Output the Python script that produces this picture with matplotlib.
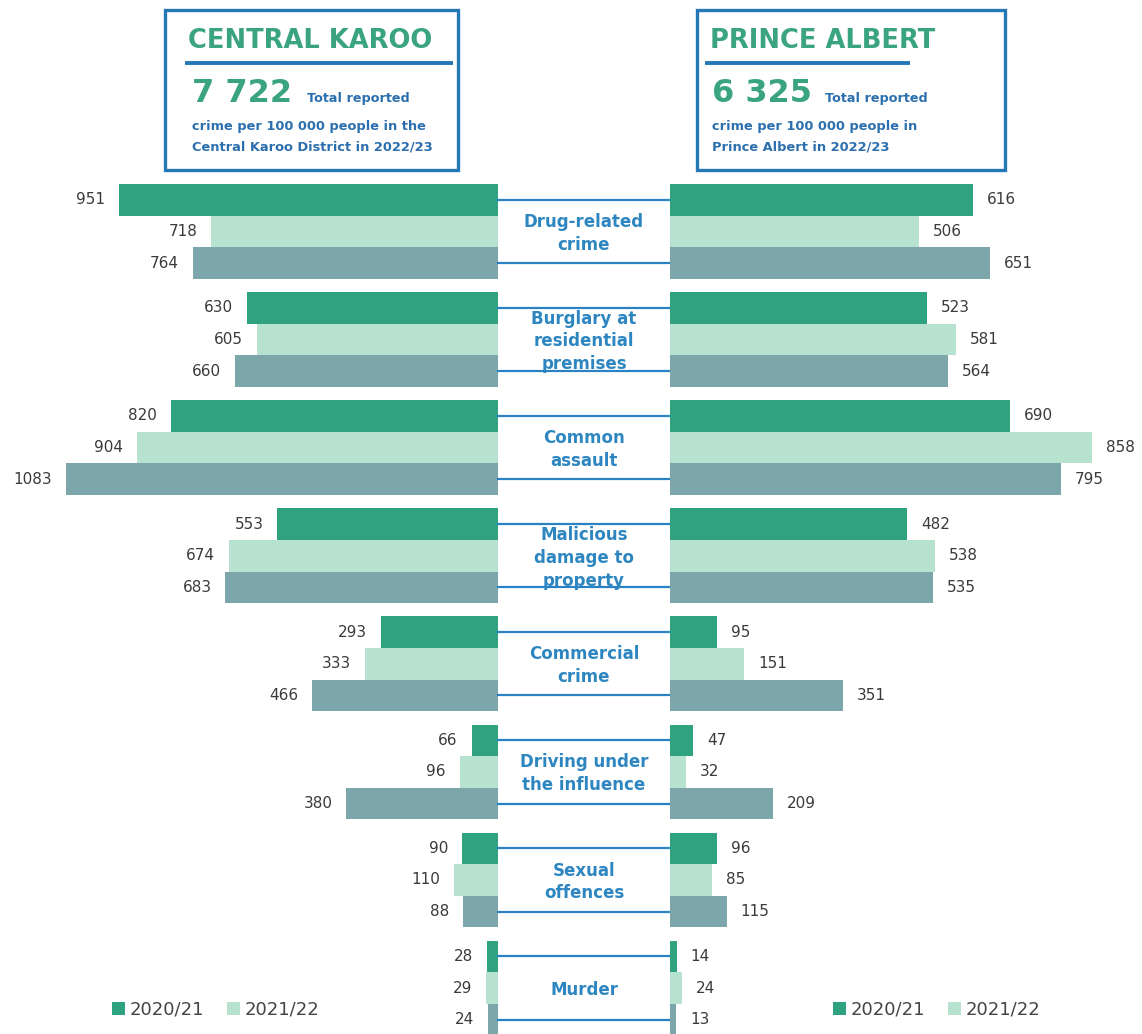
import numpy as np
import matplotlib.pyplot as plt
from matplotlib.patches import Rectangle

categories = ["Drug-related\ncrime", "Burglary at\nresidential\npremises", "Common\nassault",
              "Malicious\ndamage to\nproperty", "Commercial\ncrime", "Driving under\nthe influence",
              "Sexual\noffences", "Murder"]
years = ["2020/21", "2021/22", "2022/23"]

# Central Karoo (left side)
ck_2021 = [951, 630, 820, 553, 293, 66, 90, 28]
ck_2122 = [718, 605, 904, 674, 333, 96, 110, 29]
ck_2223 = [764, 660, 1083, 683, 466, 380, 88, 24]
# Prince Albert (right side)
pa_2021 = [616, 523, 690, 482, 95, 47, 96, 14]
pa_2122 = [506, 581, 858, 538, 151, 32, 85, 24]
pa_2223 = [651, 564, 795, 535, 351, 209, 115, 13]

colors = ["#2fa380", "#b7e2cf", "#7da6aa"]
blue = "#2478b8"
green = "#3aa37f"
textblue = "#2c6fae"

W, H = 1142, 1034
fig = plt.figure(figsize=(W / 100, H / 100), dpi=100)
fig.patch.set_facecolor("white")

# overlay in pixel coords for the header boxes
over = fig.add_axes([0, 0, 1, 1])
over.set_xlim(0, W)
over.set_ylim(H, 0)
over.axis("off")

def header(x0, x1, tx, ux, big, small_x, lines, lx):
    over.add_patch(Rectangle((x0, 10), x1 - x0, 160, fill=False, ec=blue, lw=2.4))
    over.text(tx, 48, title_of[x0], fontsize=18.5, fontweight="bold", color=green, va="baseline")
    over.plot(ux, [63, 63], color=blue, lw=2.8, solid_capstyle="butt")
    over.text(lx, 102, big, fontsize=23, fontweight="bold", color=green, va="baseline")
    over.text(small_x, 102, "Total reported", fontsize=9.2, fontweight="bold", color=textblue, va="baseline")
    for k, ln in enumerate(lines):
        over.text(lx, 130 + 20 * k, ln, fontsize=9.4, fontweight="bold", color=textblue, va="baseline")

title_of = {165: "CENTRAL KAROO", 697: "PRINCE ALBERT"}
header(165, 458, 188, [185, 453], "7 722", 307,
       ["crime per 100 000 people in the", "Central Karoo District in 2022/23"], 192)
header(697, 1005, 710, [705, 910], "6 325", 825,
       ["crime per 100 000 people in", "Prince Albert in 2022/23"], 712)

# bar area: pixel rows 170..1034
top_px = 170
ax_h = (H - top_px) / H
axl = fig.add_axes([0, 0, 498 / W, ax_h])
axm = fig.add_axes([498 / W, 0, 172 / W, ax_h])
axr = fig.add_axes([670 / W, 0, 472 / W, ax_h])

pitch, bh = 108.1, 31.6
idx = np.arange(len(categories))
gtop = 14 + idx * pitch

for ax in (axl, axm, axr):
    ax.set_ylim(H - top_px, 0)
    ax.axis("off")
axl.set_xlim(1248, 0)
axr.set_xlim(0, 959)
axm.set_xlim(0, 1)

left_series = [ck_2021, ck_2122, ck_2223]
right_series = [pa_2021, pa_2122, pa_2223]
handles_l, handles_r = [], []
for j in range(3):
    yc = gtop + bh / 2 + j * bh
    bl = axl.barh(yc, left_series[j], height=bh, color=colors[j], label=years[j])
    br = axr.barh(yc, right_series[j], height=bh, color=colors[j], label=years[j])
    axl.bar_label(bl, padding=10, fontsize=11, color="#3a3a3a")
    axr.bar_label(br, padding=10, fontsize=11, color="#3a3a3a")
    handles_l.append(bl)
    handles_r.append(br)

for i, cat in enumerate(categories):
    y0 = gtop[i] + bh / 2
    y2 = gtop[i] + 2.5 * bh
    axm.plot([0, 1], [y0, y0], color="#2a82c5", lw=1.6, clip_on=False)
    axm.plot([0, 1], [y2, y2], color="#2a82c5", lw=1.6, clip_on=False)
    axm.text(0.5, gtop[i] + 1.5 * bh + 2, cat, ha="center", va="center", fontsize=12,
             fontweight="bold", color="#2e86c1", linespacing=1.35)

leg_kw = dict(ncol=2, frameon=False, fontsize=13, handlelength=0.7, handleheight=0.7,
              handletextpad=0.25, columnspacing=1.3, labelcolor="#444444", loc="center left")
fig.legend(handles_l[:2], years[:2], bbox_to_anchor=(96 / W, 1 - 1010 / H), **leg_kw)
fig.legend(handles_r[:2], years[:2], bbox_to_anchor=(817 / W, 1 - 1010 / H), **leg_kw)

fig.savefig("out.png", dpi=100, facecolor="white")
